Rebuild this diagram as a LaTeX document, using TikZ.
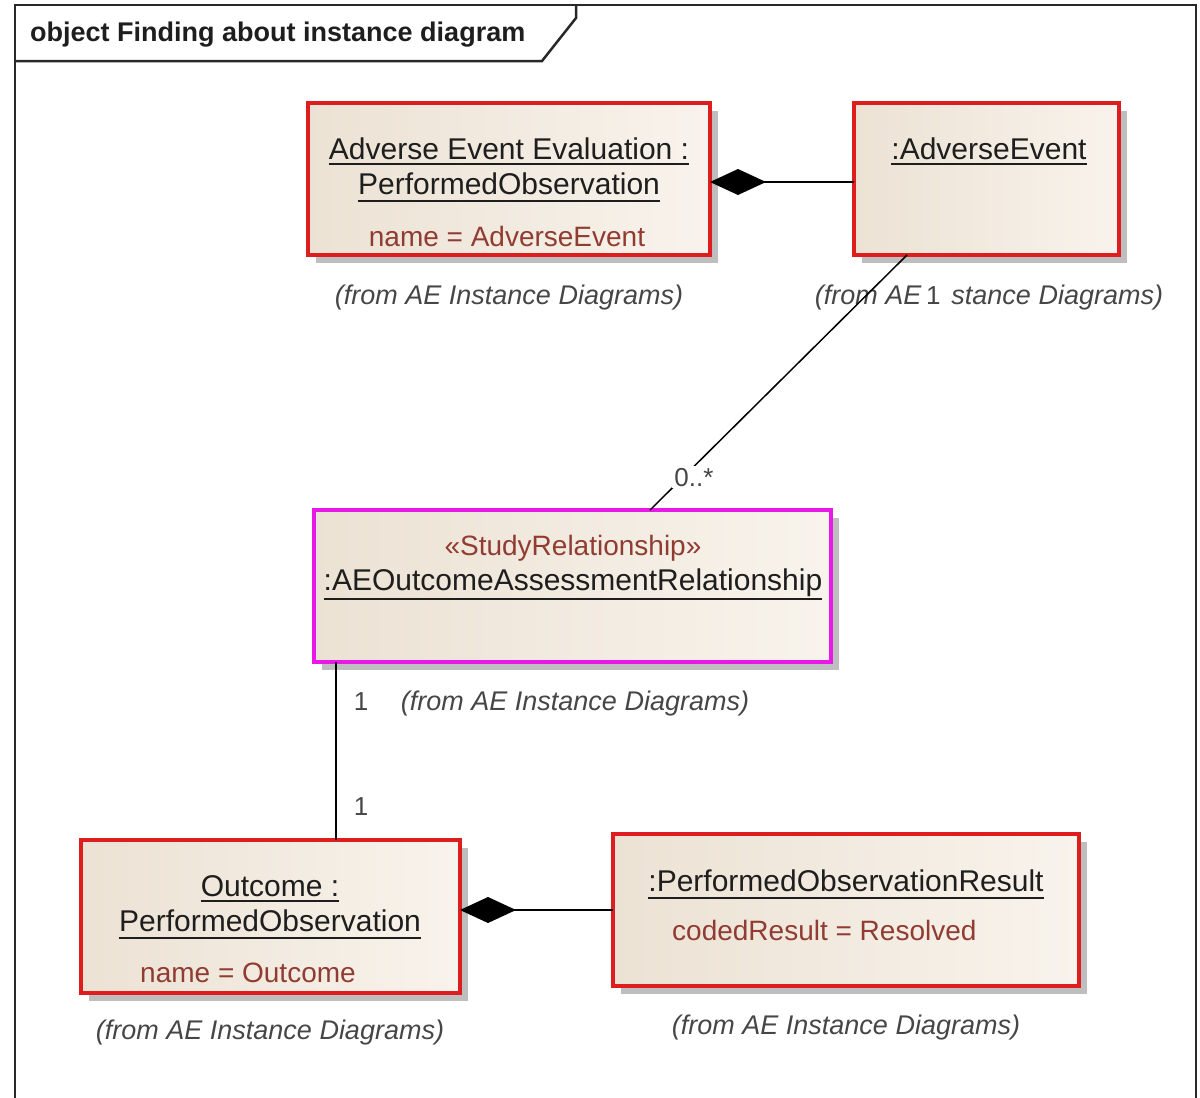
\documentclass[tikz,border=0pt]{standalone}
\usepackage{fontspec}
\setmainfont{Liberation Sans}
\usetikzlibrary{shadows,arrows.meta,calc}

\definecolor{objred}{RGB}{222,30,30}
\definecolor{objmagenta}{RGB}{232,24,232}
\definecolor{fillL}{RGB}{236,226,212}
\definecolor{fillR}{RGB}{248,243,236}
\definecolor{shadowgray}{RGB}{190,190,190}
\definecolor{namecol}{RGB}{30,30,30}
\definecolor{attrcol}{RGB}{145,60,50}
\definecolor{pkgcol}{RGB}{70,70,70}
\definecolor{framecol}{RGB}{40,40,40}

\tikzset{
  objbox/.style={draw=objred, line width=4pt, inner sep=0pt, outer sep=0pt,
    left color=fillL, right color=fillR,
    general shadow={fill=shadowgray, shadow xshift=8pt, shadow yshift=-8pt}},
  relbox/.style={objbox, draw=objmagenta},
  objname/.style={anchor=base, inner sep=0pt, text=namecol,
    font=\fontsize{30}{36}\selectfont},
  attr/.style={anchor=base, inner sep=0pt, text=attrcol,
    font=\fontsize{28}{34}\selectfont},
  pkg/.style={anchor=base, inner sep=0pt, text=pkgcol,
    font=\fontsize{27}{32}\selectfont\itshape},
  mult/.style={anchor=base, inner sep=2pt, fill=white, text=pkgcol,
    font=\fontsize{26}{30}\selectfont},
  uline/.style={line width=2pt, draw=namecol},
  conn/.style={line width=2pt, draw=black},
  comp/.style={conn, {Diamond[length=56pt,width=26pt]}-},
  frameline/.style={line width=2.5pt, draw=framecol}
}

\begin{document}
\begin{tikzpicture}[x=1pt,y=-1pt]
\useasboundingbox (0,0) rectangle (1200,1098);

% diagram frame and its name tab
\draw[frameline] (15,1110) -- (15,5) -- (1196,5) -- (1196,1110);
\draw[frameline] (15,61) -- (542,61) -- (576,18) -- (576,5);
\node[anchor=base west, inner sep=0pt, text=namecol,
  font=\fontsize{27}{32}\selectfont\bfseries] (title) at (30,41)
  {object Finding about instance diagram};

% object boxes
\node[objbox, minimum width=402pt, minimum height=152pt] (aee) at (509,179) {};
\node[objbox, minimum width=265pt, minimum height=152pt] (ae) at (986.5,179) {};
\node[relbox, minimum width=517pt, minimum height=152pt] (aeo) at (572.5,586) {};
\node[objbox, minimum width=379pt, minimum height=153pt] (outc) at (270.5,916.5) {};
\node[objbox, minimum width=466pt, minimum height=152pt] (por) at (846,910) {};

% Adverse Event Evaluation : PerformedObservation
\node[objname] (aeeA) at (509,159) {Adverse Event Evaluation :};
\node[objname] (aeeB) at (509,194) {PerformedObservation};
\draw[uline] ([yshift=-5pt]aeeA.base west) -- ([yshift=-5pt]aeeA.base east);
\draw[uline] ([yshift=-7pt]aeeB.base west) -- ([yshift=-7pt]aeeB.base east);
\node[attr] (aeeC) at (507,246) {name = AdverseEvent};
\node[pkg] (aeeP) at (509,304) {(from AE Instance Diagrams)};

% :AdverseEvent
\node[objname] (aeA) at (989,159) {:AdverseEvent};
\draw[uline] ([yshift=-5pt]aeA.base west) -- ([yshift=-5pt]aeA.base east);
\node[pkg] (aeP) at (989,304) {(from AE Instance Diagrams)};

% :AEOutcomeAssessmentRelationship
\node[attr] (aeoS) at (573,555) {«StudyRelationship»};
\node[objname] (aeoA) at (573,590) {:AEOutcomeAssessmentRelationship};
\draw[uline] ([yshift=-9pt]aeoA.base west) -- ([yshift=-9pt]aeoA.base east);
\node[pkg] (aeoP) at (575,710) {(from AE Instance Diagrams)};

% Outcome : PerformedObservation
\node[objname] (outA) at (270,896) {Outcome :};
\node[objname] (outB) at (270,931) {PerformedObservation};
\draw[uline] ([yshift=-5pt]outA.base west) -- ([yshift=-5pt]outA.base east);
\draw[uline] ([yshift=-7pt]outB.base west) -- ([yshift=-7pt]outB.base east);
\node[attr] (outC) at (248,982) {name = Outcome};
\node[pkg] (outP) at (270,1039) {(from AE Instance Diagrams)};

% :PerformedObservationResult
\node[objname] (porA) at (846,891) {:PerformedObservationResult};
\draw[uline] ([yshift=-7pt]porA.base west) -- ([yshift=-7pt]porA.base east);
\node[attr, anchor=base west] (porC) at (672,940) {codedResult = Resolved};
\node[pkg] (porP) at (846,1034) {(from AE Instance Diagrams)};

% compositions
\draw[comp] ([yshift=-3pt]aee.east) -- ([yshift=-3pt]aee.east -| ae.west);
\draw[comp] (outc.east |- por.west) -- (por.west);

% association between the event and the relationship
\coordinate (aeFoot) at ($(ae.south west)!0.2!(ae.south east)$);
\coordinate (aeoHead) at ($(aeo.north west)!0.65!(aeo.north east)$);
\draw[conn, line width=1.5pt] (aeFoot) -- (aeoHead);
\node[mult, anchor=base west, text width=22pt, align=left] (mAE) at (924,304) {1};
\node[mult] (mAEO) at (694,486) {0..*};

% association between the relationship and the outcome
\coordinate (aeoFoot) at ([xshift=22pt]aeo.south west);
\draw[conn] (aeoFoot) -- (aeoFoot |- outc.north);
\node[mult, fill=none] (mTop) at (361,710) {1};
\node[mult, fill=none] (mBot) at (361,815) {1};
\end{tikzpicture}
\end{document}
